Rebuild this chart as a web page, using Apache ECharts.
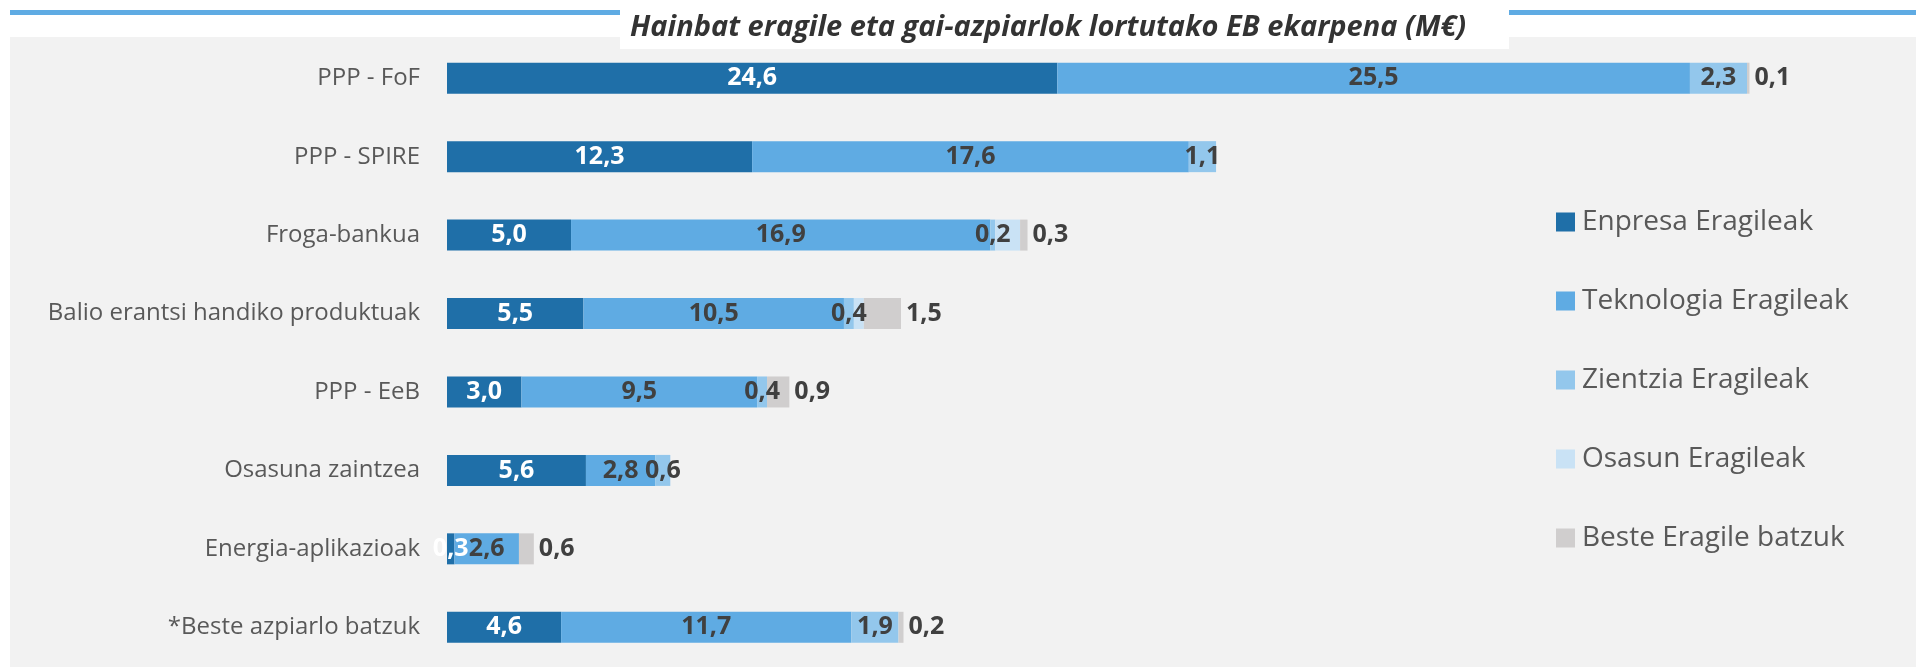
<!DOCTYPE html>
<html>
<head>
<meta charset="utf-8">
<script src="https://cdn.jsdelivr.net/npm/echarts@6/dist/echarts.min.js"></script>
<style>
html,body{margin:0;padding:0;background:#ffffff;}
#chart{width:1916px;height:667px;}
</style>
</head>
<body>
<div id="chart"></div>
<script>
const titleText = 'Hainbat eragile eta gai-azpiarlok lortutako EB ekarpena (M€)';
const categories = ['PPP - FoF', 'PPP - SPIRE', 'Froga-bankua', 'Balio erantsi handiko produktuak', 'PPP - EeB', 'Osasuna zaintzea', 'Energia-aplikazioak', '*Beste azpiarlo batzuk'];
const seriesNames = ['Enpresa Eragileak', 'Teknologia Eragileak', 'Zientzia Eragileak', 'Osasun Eragileak', 'Beste Eragile batzuk'];
const enpresa    = [24.6, 12.3, 5.0, 5.5, 3.0, 5.6, 0.3, 4.6];
const teknologia = [25.5, 17.6, 16.9, 10.5, 9.5, 2.8, 2.6, 11.7];
const zientzia   = [2.3, 1.1, 0.2, 0.4, 0.4, 0.6, 0, 1.9];
const osasun     = [0, 0, 1.0, 0.4, 0, 0, 0, 0];
const beste      = [0.1, 0, 0.3, 1.5, 0.9, 0, 0.6, 0.2];

const colors = ['#1f6fa8', '#5fabe3', '#93c7ec', '#c9e2f5', '#d0cece'];
const fmt = p => (p.value ? p.value.toFixed(1).replace('.', ',') : '');
const FONT = '"Open Sans", "Noto Sans", sans-serif';
const LBL = 25;

function mkSeries(name, data, idx) {
  let label;
  if (idx === 0) {
    label = {show: true, position: 'inside', color: '#ffffff', fontWeight: 'bold', fontSize: LBL, fontFamily: FONT, formatter: fmt};
  } else if (idx === 3) {
    label = {show: false};
  } else if (idx === 4) {
    label = {show: true, position: 'right', distance: 5, color: '#404040', fontWeight: 'bold', fontSize: LBL, fontFamily: FONT, formatter: fmt};
  } else {
    label = {show: true, position: 'inside', color: '#404040', fontWeight: 'bold', fontSize: LBL, fontFamily: FONT, formatter: fmt};
  }
  return {
    name: name, type: 'bar', stack: 'total', data: data, barWidth: 31,
    itemStyle: {color: colors[idx]}, label: label, emphasis: {disabled: true}
  };
}

const chart = echarts.init(document.getElementById('chart'), null, {renderer: 'canvas'});
chart.setOption({
  animation: false,
  backgroundColor: '#ffffff',
  color: colors,
  title: {
    text: titleText, left: 630, top: 13, padding: 0,
    textStyle: {fontFamily: FONT, fontStyle: 'italic', fontWeight: 'bold', fontSize: 29, color: '#333333'}
  },
  graphic: [
    {type: 'rect', z: -10, silent: true, shape: {x: 10, y: 37, width: 1906, height: 630}, style: {fill: '#f2f2f2'}},
    {type: 'rect', z: -9, silent: true, shape: {x: 10, y: 10, width: 1906, height: 5}, style: {fill: '#5fabe3'}},
    {type: 'rect', z: -8, silent: true, shape: {x: 620, y: 4, width: 889, height: 45}, style: {fill: '#ffffff'}}
  ],
  legend: {
    orient: 'vertical', left: 1551, top: 203, itemGap: 51, itemWidth: 19, itemHeight: 19,
    icon: 'rect', data: seriesNames,
    textStyle: {fontFamily: FONT, fontSize: 28, color: '#595959', padding: [0, 0, 0, 2]}
  },
  grid: {left: 447, top: 39, height: 627.5, width: 1364.5, containLabel: false},
  xAxis: {type: 'value', min: 0, max: 55, show: false},
  yAxis: {
    type: 'category', data: categories, inverse: true,
    axisLine: {show: false}, axisTick: {show: false},
    axisLabel: {fontFamily: FONT, fontSize: 24, color: '#595959', margin: 27}
  },
  series: [
    mkSeries(seriesNames[0], enpresa, 0),
    mkSeries(seriesNames[1], teknologia, 1),
    mkSeries(seriesNames[2], zientzia, 2),
    mkSeries(seriesNames[3], osasun, 3),
    mkSeries(seriesNames[4], beste, 4)
  ]
});
</script>
</body>
</html>
